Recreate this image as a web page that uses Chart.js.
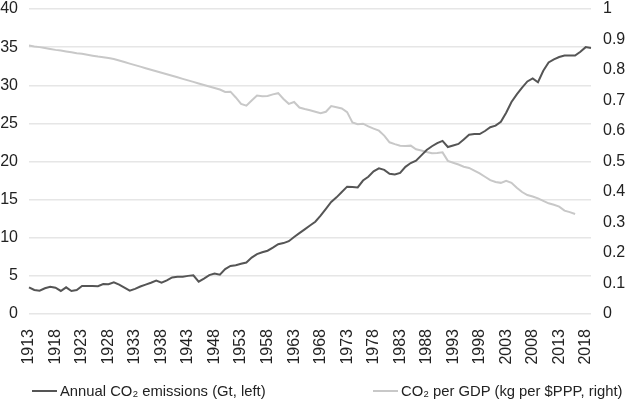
<!DOCTYPE html>
<html>
<head>
<meta charset="utf-8">
<script src="https://cdn.jsdelivr.net/npm/chart.js@4.4.1/dist/chart.umd.min.js"></script>
<style>
    html, body { margin: 0; padding: 0; background: #fff; }
    #wrap { position: relative; width: 626px; height: 406px; }
    #co2Legend {
        position: absolute; left: 0; top: 382px; width: 626px; height: 20px;
        font: 14.8px "Liberation Sans", Arial, sans-serif; color: #222;
    }
    .lg-item { position: absolute; top: 0; white-space: nowrap; line-height: 18px; }
    .lg-swatch { display: inline-block; width: 25px; height: 2px; vertical-align: middle; margin-right: 3px; position: relative; top: -1px; }
</style>
</head>
<body>
<div id="wrap">
    <canvas id="co2Chart" width="626" height="406"></canvas>
    <div id="co2Legend"></div>
</div>
<script>
// Years on the x axis
const years = [];
for (let y = 1913; y <= 2019; y++) years.push(String(y));

// Annual CO2 emissions, Gt (left axis)
const emissions = [
    3.5, 3.15, 3.06, 3.37, 3.58, 3.45, 3.02, 3.5, 3.02, 3.15,
    3.67, 3.67, 3.67, 3.65, 3.93, 3.9, 4.15, 3.85, 3.45, 3.06,
    3.3, 3.6, 3.85, 4.1, 4.37, 4.1, 4.4, 4.8, 4.9, 4.9,
    5.0, 5.07, 4.24, 4.65, 5.1, 5.3, 5.15, 5.9, 6.3, 6.4,
    6.6, 6.75, 7.4, 7.85, 8.1, 8.3, 8.7, 9.15, 9.3, 9.55,
    10.1, 10.6, 11.1, 11.6, 12.1, 12.9, 13.8, 14.7, 15.3, 16.0,
    16.7, 16.65, 16.6, 17.5, 18.0, 18.7, 19.1, 18.9, 18.4, 18.3,
    18.5, 19.3, 19.8, 20.1, 20.8, 21.5, 22.0, 22.4, 22.7, 21.9,
    22.1, 22.3, 22.9, 23.5, 23.6, 23.6, 24.0, 24.5, 24.7, 25.2,
    26.4, 27.8, 28.8, 29.7, 30.5, 30.9, 30.4, 31.9, 33.0, 33.4,
    33.7, 33.9, 33.9, 33.9, 34.4, 35.0, 34.9
];

// CO2 per GDP, kg per $PPP (right axis), ends in 2016
const intensity = [
    0.880, 0.877, 0.875, 0.872, 0.869, 0.866, 0.864, 0.861, 0.858, 0.855,
    0.853, 0.850, 0.847, 0.844, 0.842, 0.839, 0.836, 0.831, 0.826, 0.821,
    0.816, 0.811, 0.806, 0.801, 0.796, 0.791, 0.786, 0.781, 0.776, 0.771,
    0.766, 0.761, 0.756, 0.751, 0.746, 0.741, 0.736, 0.728, 0.729, 0.710,
    0.689, 0.683, 0.700, 0.716, 0.714, 0.715, 0.720, 0.724, 0.705, 0.689,
    0.695, 0.677, 0.672, 0.668, 0.663, 0.658, 0.663, 0.682, 0.678, 0.674,
    0.662, 0.628, 0.622, 0.624, 0.615, 0.608, 0.601, 0.585, 0.563, 0.557,
    0.552, 0.551, 0.552, 0.540, 0.536, 0.531, 0.527, 0.528, 0.530, 0.502,
    0.496, 0.490, 0.483, 0.479, 0.470, 0.461, 0.450, 0.439, 0.433, 0.430,
    0.437, 0.430, 0.414, 0.400, 0.390, 0.385, 0.379, 0.371, 0.363, 0.358,
    0.352, 0.339, 0.334, 0.328, null, null, null
];

const leftTicks = [0, 5, 10, 15, 20, 25, 30, 35, 40];
const rightTicks = [0, 0.1, 0.2, 0.3, 0.4, 0.5, 0.6, 0.7, 0.8, 0.9, 1];

const darkLine = '#555555';
const lightLine = '#c8c8c8';

Chart.defaults.font.family = '"Liberation Sans", Arial, sans-serif';
Chart.defaults.font.size = 16;
Chart.defaults.color = '#222222';

// y axes: no extra room for label overhang, the layout padding handles it
function fixY(width) {
    return function (scale) {
        scale.width = width;
        scale.paddingTop = 0;
        scale.paddingBottom = 0;
    };
}

const ctx = document.getElementById('co2Chart').getContext('2d');
const chart = new Chart(ctx, {
    type: 'line',
    data: {
        labels: years,
        datasets: [
            {
                label: 'Annual CO\u2082 emissions (Gt, left)',
                data: emissions,
                yAxisID: 'yLeft',
                borderColor: darkLine,
                backgroundColor: darkLine,
                borderWidth: 2,
                pointRadius: 0,
                tension: 0
            },
            {
                label: 'CO\u2082 per GDP (kg per $PPP, right)',
                data: intensity,
                yAxisID: 'yRight',
                borderColor: lightLine,
                backgroundColor: lightLine,
                borderWidth: 2,
                pointRadius: 0,
                tension: 0
            }
        ]
    },
    options: {
        responsive: false,
        animation: false,
        layout: { padding: { top: 9, left: 0, right: 0, bottom: 36 } },
        plugins: {
            tooltip: { enabled: false },
            legend: { display: false }
        },
        scales: {
            x: {
                type: 'category',
                offset: false,
                grid: { display: false },
                border: { display: false },
                ticks: {
                    autoSkip: false,
                    maxRotation: 90,
                    minRotation: 90,
                    padding: 7,
                    callback(value, index) {
                        return index % 5 === 0 ? years[index] : '';
                    }
                },
                afterFit(scale) { scale.height = 56; }
            },
            yLeft: {
                position: 'left',
                min: 0,
                max: 40,
                afterBuildTicks(scale) { scale.ticks = leftTicks.map(v => ({ value: v })); },
                grid: { color: '#e6e6e6', lineWidth: 1.5, drawTicks: false },
                border: { display: false },
                ticks: { padding: 11 },
                afterFit: fixY(29)
            },
            yRight: {
                position: 'right',
                min: 0,
                max: 1,
                afterBuildTicks(scale) { scale.ticks = rightTicks.map(v => ({ value: v })); },
                grid: { display: false, drawTicks: false },
                border: { display: false },
                ticks: {
                    padding: 12,
                    callback(value) { return String(Math.round(value * 10) / 10); }
                },
                afterFit: fixY(35)
            }
        }
    }
});

// HTML legend, items placed like the original
const legendX = [32, 373];
const legendEl = document.getElementById('co2Legend');
chart.data.datasets.forEach((ds, i) => {
    const item = document.createElement('span');
    item.className = 'lg-item';
    item.style.left = legendX[i] + 'px';
    const sw = document.createElement('span');
    sw.className = 'lg-swatch';
    sw.style.background = ds.borderColor;
    item.appendChild(sw);
    item.appendChild(document.createTextNode(ds.label));
    legendEl.appendChild(item);
});
</script>
</body>
</html>
